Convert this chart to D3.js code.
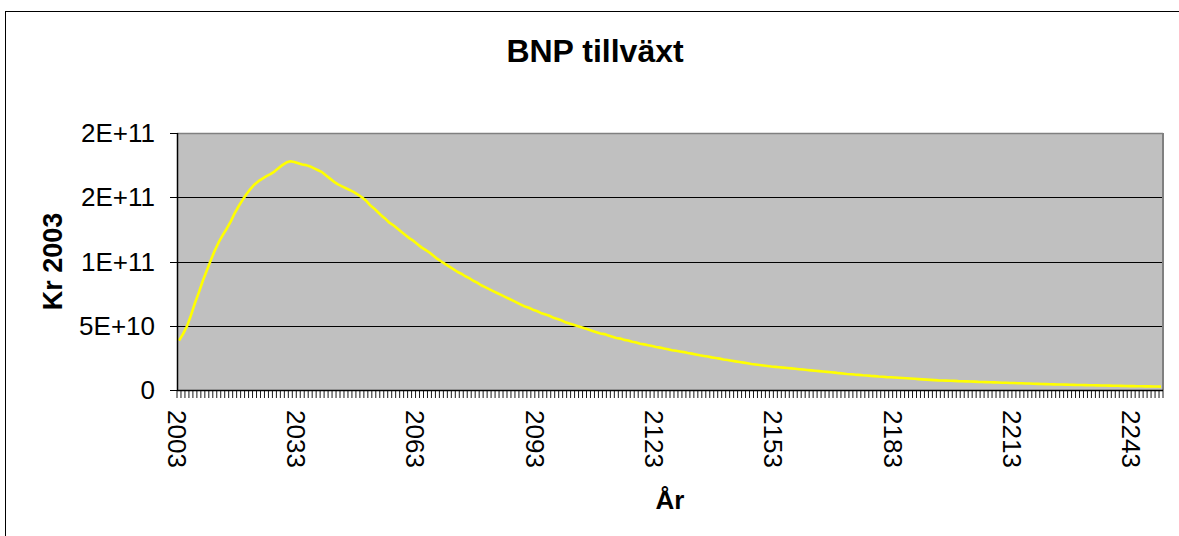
<!DOCTYPE html>
<html>
<head>
<meta charset="utf-8">
<script src="https://cdn.jsdelivr.net/npm/d3@7"></script>
<style>
  html, body { margin: 0; padding: 0; background: #fff; }
  svg { display: block; font-family: "Liberation Sans", Arial, sans-serif; }
</style>
</head>
<body>
<svg id="chart" width="1179" height="536"></svg>
<script>
// ---- data ----
const firstYear = 2003;
const lastYear = 2250;
const years = d3.range(firstYear, lastYear + 1);
// BNP tillväxt, kronor (2003 prices), one value per year 2003..2250
const bnp = [
  38.4e9, 43.5e9, 49.5e9, 58e9, 67.5e9, 76e9, 85e9, 93e9, 101e9, 108.5e9,
  115e9, 120.5e9, 125.5e9, 131e9, 137.5e9, 143e9, 148e9, 152.5e9, 156.5e9, 160e9,
  162.5e9, 164.5e9, 166.5e9, 168e9, 170e9, 172.5e9, 175e9, 177e9, 178e9, 177.5e9,
  176.5e9, 175.5e9, 175e9, 174e9, 172.5e9, 171e9, 169.5e9, 167e9, 164.5e9, 162e9,
  160e9, 158.5e9, 157e9, 155.5e9, 154e9, 152e9, 150e9, 147.5e9, 144e9, 141.5e9,
  138.5e9, 135.5e9, 133e9, 130e9, 128e9, 125.5e9, 123e9, 120.5e9, 118e9, 116e9,
  113.5e9, 111e9, 109e9, 107e9, 104.5e9, 102e9, 100e9, 98e9, 96e9, 94e9,
  92e9, 90.5e9, 88.5e9, 87e9, 85e9, 83.5e9, 81.5e9, 80e9, 78.5e9, 77e9,
  75.5e9, 74e9, 72.5e9, 71e9, 69.5e9, 68e9, 66.5e9, 65e9, 64e9, 62.5e9,
  61.5e9, 60e9, 59e9, 58e9, 56.5e9, 55.5e9, 54.5e9, 53e9, 52e9, 51e9,
  50e9, 49e9, 48e9, 47e9, 46e9, 45e9, 44e9, 43.5e9, 42.5e9, 41.5e9,
  40.5e9, 40e9, 39e9, 38.5e9, 37.5e9, 37e9, 36e9, 35.5e9, 34.8e9, 34.2e9,
  33.5e9, 33e9, 32.3e9, 31.7e9, 31e9, 30.5e9, 30e9, 29.5e9, 28.8e9, 28.3e9,
  27.7e9, 27e9, 26.5e9, 26e9, 25.4e9, 24.9e9, 24.4e9, 23.8e9, 23.3e9, 22.8e9,
  22.3e9, 21.8e9, 21.3e9, 20.8e9, 20.3e9, 19.9e9, 19.5e9, 19.1e9, 18.7e9, 18.3e9,
  18.0e9, 17.7e9, 17.4e9, 17.1e9, 16.8e9, 16.5e9, 16.2e9, 15.9e9, 15.6e9, 15.3e9,
  15.0e9, 14.7e9, 14.4e9, 14.1e9, 13.8e9, 13.5e9, 13.1e9, 12.8e9, 12.5e9, 12.3e9,
  12.0e9, 11.8e9, 11.5e9, 11.3e9, 11.0e9, 10.8e9, 10.5e9, 10.3e9, 10.0e9, 9.9e9,
  9.7e9, 9.5e9, 9.3e9, 9.1e9, 8.9e9, 8.7e9, 8.5e9, 8.3e9, 8.1e9, 7.9e9,
  7.7e9, 7.5e9, 7.4e9, 7.3e9, 7.2e9, 7.1e9, 6.9e9, 6.8e9, 6.7e9, 6.6e9,
  6.5e9, 6.3e9, 6.2e9, 6.1e9, 6.0e9, 5.9e9, 5.8e9, 5.7e9, 5.6e9, 5.5e9,
  5.4e9, 5.3e9, 5.2e9, 5.1e9, 5.0e9, 4.9e9, 4.8e9, 4.7e9, 4.6e9, 4.5e9,
  4.4e9, 4.3e9, 4.25e9, 4.2e9, 4.1e9, 4.0e9, 3.9e9, 3.85e9, 3.8e9, 3.7e9,
  3.65e9, 3.6e9, 3.5e9, 3.45e9, 3.4e9, 3.3e9, 3.25e9, 3.2e9, 3.1e9, 3.05e9,
  3.0e9, 2.95e9, 2.9e9, 2.85e9, 2.8e9, 2.75e9, 2.7e9, 2.6e9
];
const yTickValues = [0, 5e10, 1e11, 1.5e11, 2e11];
const yTickLabels = ["0", "5E+10", "1E+11", "2E+11", "2E+11"];
const xTickYears = [2003, 2033, 2063, 2093, 2123, 2153, 2183, 2213, 2243];

const titleText = "BNP tillväxt";
const yTitle = "Kr 2003";
const xTitle = "År";

// ---- layout ----
const svg = d3.select("#chart");
const plot = { left: 177, right: 1163, top: 133, bottom: 390 };

const x = d3.scaleBand().domain(years).range([plot.left, plot.right]).padding(0);
const y = d3.scaleLinear().domain([0, 2e11]).range([plot.bottom, plot.top]);

// white bg + outer chart border (extends beyond right/bottom edge)
svg.append("rect").attr("width", 1179).attr("height", 536).attr("fill", "#fff");
svg.append("rect")
  .attr("x", 5.5).attr("y", 11.5).attr("width", 1300).attr("height", 700)
  .attr("fill", "none").attr("stroke", "#000").attr("stroke-width", 1);

// plot area
svg.append("rect")
  .attr("x", plot.left).attr("y", plot.top)
  .attr("width", plot.right - plot.left).attr("height", plot.bottom - plot.top)
  .attr("fill", "#C0C0C0");

// gridlines
svg.append("g").selectAll("line")
  .data(yTickValues.filter(v => v > 0 && v < 2e11))
  .join("line")
  .attr("x1", plot.left).attr("x2", plot.right)
  .attr("y1", d => Math.round(y(d)) + 0.5).attr("y2", d => Math.round(y(d)) + 0.5)
  .attr("stroke", "#000").attr("stroke-width", 1);

// plot border top/right (gray)
svg.append("line")
  .attr("x1", plot.left).attr("x2", plot.right)
  .attr("y1", plot.top + 0.5).attr("y2", plot.top + 0.5)
  .attr("stroke", "#808080").attr("stroke-width", 1.5);
svg.append("line")
  .attr("x1", plot.right).attr("x2", plot.right)
  .attr("y1", plot.top).attr("y2", plot.bottom)
  .attr("stroke", "#808080").attr("stroke-width", 2);

// series line
const line = d3.line()
  .x((d, i) => x(years[i]) + x.bandwidth() / 2)
  .y(d => y(d));
svg.append("path")
  .datum(bnp)
  .attr("d", line)
  .attr("fill", "none")
  .attr("stroke", "#FFFF00")
  .attr("stroke-width", 2.6)
  .attr("stroke-linejoin", "round");

// y axis
const yAxis = svg.append("g");
yAxis.append("line")
  .attr("x1", plot.left + 0.5).attr("x2", plot.left + 0.5)
  .attr("y1", plot.top).attr("y2", plot.bottom)
  .attr("stroke", "#000").attr("stroke-width", 1.5);
yAxis.selectAll("line.tick")
  .data(yTickValues)
  .join("line").attr("class", "tick")
  .attr("x1", plot.left - 7).attr("x2", plot.left)
  .attr("y1", d => Math.round(y(d)) + 0.5).attr("y2", d => Math.round(y(d)) + 0.5)
  .attr("stroke", "#000").attr("stroke-width", 1);
yAxis.selectAll("text")
  .data(yTickValues)
  .join("text")
  .attr("x", 155)
  .attr("y", d => y(d))
  .attr("dy", "0.35em")
  .attr("text-anchor", "end")
  .attr("font-size", 26)
  .attr("fill", "#000")
  .text((d, i) => yTickLabels[i]);

// x axis
const xAxis = svg.append("g");
xAxis.append("line")
  .attr("x1", plot.left).attr("x2", plot.right)
  .attr("y1", plot.bottom + 0.5).attr("y2", plot.bottom + 0.5)
  .attr("stroke", "#000").attr("stroke-width", 1.5);
xAxis.selectAll("line.tick")
  .data(years.concat([lastYear + 1]))
  .join("line").attr("class", "tick")
  .attr("x1", d => (d <= lastYear ? x(d) : plot.right))
  .attr("x2", d => (d <= lastYear ? x(d) : plot.right))
  .attr("y1", plot.bottom).attr("y2", plot.bottom + 8)
  .attr("stroke", "#000").attr("stroke-width", 0.9);
xAxis.selectAll("text")
  .data(xTickYears)
  .join("text")
  .attr("transform", d => `translate(${x(d)},410) rotate(90)`)
  .attr("dy", "0.35em")
  .attr("text-anchor", "start")
  .attr("font-size", 26)
  .attr("fill", "#000")
  .text(d => String(d));

// titles
svg.append("text")
  .attr("x", 595).attr("y", 62)
  .attr("text-anchor", "middle")
  .attr("font-size", 32).attr("font-weight", "bold")
  .text(titleText);
svg.append("text")
  .attr("transform", `translate(61.5,${(plot.top + plot.bottom) / 2}) rotate(-90)`)
  .attr("text-anchor", "middle")
  .attr("font-size", 27).attr("font-weight", "bold")
  .text(yTitle);
svg.append("text")
  .attr("x", (plot.left + plot.right) / 2).attr("y", 509)
  .attr("text-anchor", "middle")
  .attr("font-size", 26).attr("font-weight", "bold")
  .text(xTitle);
</script>
</body>
</html>
